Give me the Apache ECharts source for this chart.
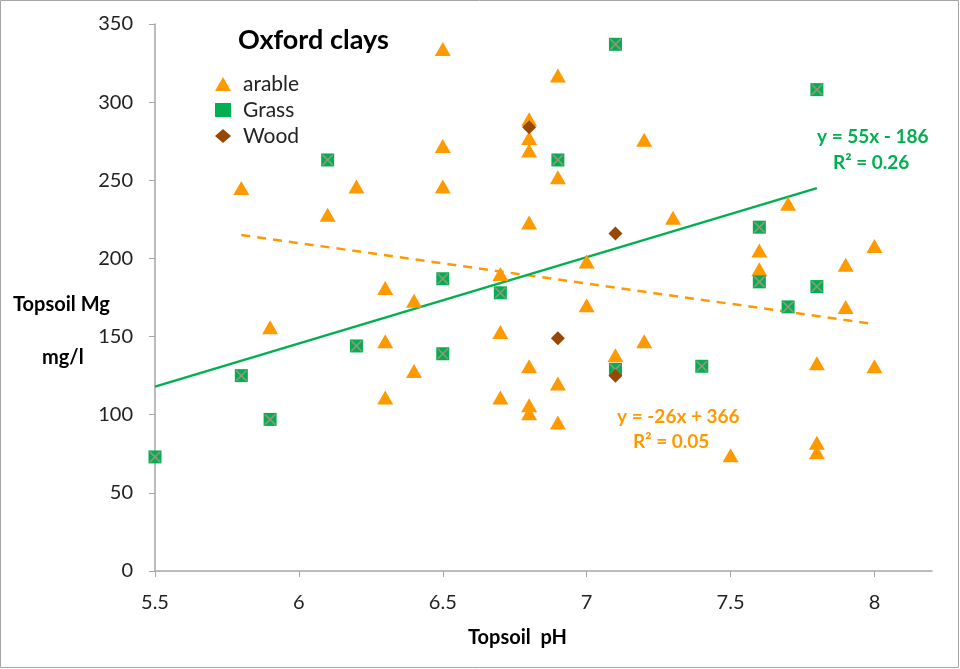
<!DOCTYPE html>
<html>
<head>
<meta charset="utf-8">
<title>Oxford clays</title>
<script src="https://cdn.jsdelivr.net/npm/echarts@6/dist/echarts.min.js"></script>
<style>
  html, body { margin: 0; padding: 0; background: #fff; }
  #chart { width: 960px; height: 669px; }
</style>
</head>
<body>
<div id="chart"></div>
<script>
// topsoil pH / Mg (mg/l)
var arable = [
  [5.8, 245], [5.9, 156], [6.1, 228], [6.2, 246],
  [6.3, 181], [6.3, 147], [6.3, 111], [6.4, 173], [6.4, 128],
  [6.5, 334], [6.5, 272], [6.5, 246],
  [6.7, 190], [6.7, 153], [6.7, 111],
  [6.8, 289], [6.8, 277], [6.8, 269], [6.8, 223], [6.8, 131], [6.8, 106], [6.8, 101],
  [6.9, 317], [6.9, 252], [6.9, 120], [6.9, 95],
  [7.0, 198], [7.0, 170], [7.1, 138],
  [7.2, 276], [7.2, 147], [7.3, 226], [7.5, 74],
  [7.6, 205], [7.6, 193], [7.7, 235],
  [7.8, 133], [7.8, 82], [7.8, 76],
  [7.9, 196], [7.9, 169], [8.0, 208], [8.0, 131]
];
var grass = [
  [5.5, 73], [5.8, 125], [5.9, 97], [6.1, 263], [6.2, 144],
  [6.5, 187], [6.5, 139], [6.7, 178], [6.9, 263],
  [7.1, 337], [7.1, 129], [7.4, 131],
  [7.6, 220], [7.6, 185], [7.7, 169], [7.8, 308], [7.8, 182]
];
var wood = [[6.8, 284], [7.1, 216], [6.9, 149], [7.1, 125]];

// trend line end points
var grassTrend = [[5.5, 118], [7.8, 245]];
var arableTrend = [[5.8, 215], [8.0, 158]];

var xTicks = [5.5, 6, 6.5, 7, 7.5, 8];

var orange = '#FF9900';
var green = '#00B050';
var brown = '#974806';
var font = 'Lato, "Open Sans", sans-serif';

var crossPath = 'path://M0,0 L2,0 L10,8 L18,0 L20,0 L20,2 L12,10 L20,18 L20,20 L18,20 L10,12 L2,20 L0,20 L0,18 L8,10 L0,2 Z';

var chart = echarts.init(document.getElementById('chart'));
chart.setOption({
  animation: false,
  textStyle: { fontFamily: font },
  grid: { left: 155, right: 28, top: 24, bottom: 98 },
  legend: {
    data: ['arable', 'Grass', 'Wood'],
    orient: 'vertical',
    left: 210,
    top: 68,
    itemWidth: 16,
    itemHeight: 14,
    itemGap: 4,
    textStyle: { fontSize: 21, lineHeight: 22, color: '#222', fontFamily: font, padding: [0, 0, 0, 7] }
  },
  graphic: [
    { type: 'rect', shape: { x: 0.5, y: 0.5, width: 958, height: 667 },
      style: { fill: 'none', stroke: '#a6a6a6', lineWidth: 1 }, silent: true },
    { type: 'text', left: 238, top: 27,
      style: { text: 'Oxford clays', font: 'bold 27px ' + font, fill: '#000' } },
    { type: 'text', left: 13, top: 295,
      style: { text: 'Topsoil Mg', font: 'bold 20px ' + font, fill: '#000' } },
    { type: 'text', left: 42, top: 348,
      style: { text: 'mg/l', font: 'bold 20px ' + font, fill: '#000' } },
    { type: 'text', left: 468, top: 628,
      style: { text: 'Topsoil  pH', font: 'bold 20px ' + font, fill: '#000' } },
    { type: 'text', left: 817, top: 127,
      style: { text: 'y = 55x - 186', font: 'bold 19px ' + font, fill: green } },
    { type: 'text', left: 833, top: 153,
      style: { text: 'R² = 0.26', font: 'bold 19px ' + font, fill: green } },
    { type: 'text', left: 617, top: 407,
      style: { text: 'y = -26x + 366', font: 'bold 19px ' + font, fill: orange } },
    { type: 'text', left: 633, top: 432,
      style: { text: 'R² = 0.05', font: 'bold 19px ' + font, fill: orange } }
  ],
  xAxis: {
    type: 'value',
    min: 5.5,
    max: 8.2,
    interval: 0.5,
    splitLine: { show: false },
    axisLine: { lineStyle: { color: '#a6a6a6', width: 1.5 } },
    axisTick: { show: true, length: 6, lineStyle: { color: '#a6a6a6' }, customValues: xTicks },
    axisLabel: { fontSize: 20, color: '#222', margin: 22, customValues: xTicks,
      formatter: function (v) { return String(v); } }
  },
  yAxis: {
    type: 'value',
    min: 0,
    max: 350,
    interval: 50,
    splitLine: { show: false },
    axisLine: { show: true, lineStyle: { color: '#a6a6a6', width: 1.5 } },
    axisTick: { show: true, length: 6, lineStyle: { color: '#a6a6a6' } },
    axisLabel: { fontSize: 20, color: '#222', margin: 22 }
  },
  series: [
    { name: 'arable trend', type: 'line', data: arableTrend, symbol: 'none', silent: true,
      lineStyle: { color: orange, width: 2.5, type: [9, 7] }, z: 1 },
    { name: 'Grass trend', type: 'line', data: grassTrend, symbol: 'none', silent: true,
      lineStyle: { color: green, width: 2.5 }, z: 1 },
    { name: 'arable', type: 'scatter', data: arable, symbol: 'triangle', symbolSize: [16, 14],
      itemStyle: { color: orange, opacity: 1 }, z: 2 },
    { name: 'Grass', type: 'scatter', data: grass, symbol: 'rect', symbolSize: 13,
      itemStyle: { color: green, opacity: 1 }, z: 3 },
    { name: 'Grass x', type: 'scatter', data: grass, symbol: crossPath, symbolSize: 11, silent: true,
      itemStyle: { color: '#a09080', opacity: 1 }, z: 4 },
    { name: 'Wood', type: 'scatter', data: wood, symbol: 'diamond', symbolSize: 14,
      itemStyle: { color: brown, opacity: 1 }, z: 5 }
  ]
});
</script>
</body>
</html>
